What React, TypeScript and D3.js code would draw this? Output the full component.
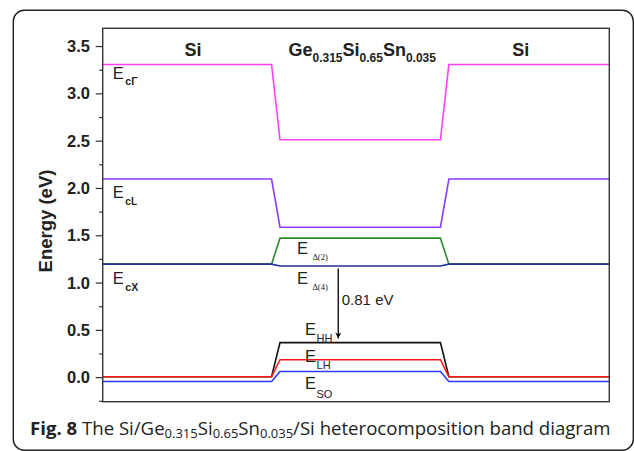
import React from "react";
import * as d3 from "d3";

// ---- data ----
const xPos = [0, 20, 21, 40, 41, 60];
const ecGamma = [3.31, 3.31, 2.515, 2.515, 3.31, 3.31];
const ecL = [2.1, 2.1, 1.59, 1.59, 2.1, 2.1];
const eDelta2 = [1.2, 1.2, 1.475, 1.475, 1.2, 1.2];
const eDelta4 = [1.2, 1.2, 1.18, 1.18, 1.2, 1.2];
const eHH = [0.01, 0.01, 0.37, 0.37, 0.01, 0.01];
const eLH = [0.01, 0.01, 0.19, 0.19, 0.01, 0.01];
const eSO = [-0.04, -0.04, 0.065, 0.065, -0.04, -0.04];

const yTicks = [0, 0.5, 1, 1.5, 2, 2.5, 3, 3.5];
const yMinorTicks = [-0.25, 0.25, 0.75, 1.25, 1.75, 2.25, 2.75, 3.25];

const gapLabel = "0.81 eV";
const arrowX = 27.9;
const arrowFrom = 1.155;
const arrowTo = 0.415;

const W = 634;
const H = 451;
const M = { left: 102.7, right: 609.3, top: 28.3, bottom: 401.7 };

const series = [
  { vals: ecGamma, color: "#ff40ff" },
  { vals: ecL, color: "#8a3cff" },
  { vals: eDelta2, color: "#2e8b2e" },
  { vals: eDelta4, color: "#23319e" },
  { vals: eHH, color: "#111111" },
  { vals: eSO, color: "#2a3cff" },
  { vals: eLH, color: "#ff1a1a" },
];

const labels = [
  { x: 1.2, y: 3.155, sub: "cΓ", subFont: "Arial", subSize: 10.5, subBold: true, dx: 1.5, dy: 6 },
  { x: 1.2, y: 1.9, sub: "cL", subFont: "Arial", subSize: 10, subBold: true, dx: 1.5, dy: 7 },
  { x: 1.2, y: 0.985, sub: "cX", subFont: "Arial", subSize: 10.5, subBold: true, dx: 1.5, dy: 6.5 },
  { x: 23.0, y: 1.312, sub: "Δ(2)", subFont: "Liberation Serif", subSize: 8.5, subBold: false, dx: 4.5, dy: 6.5 },
  { x: 23.0, y: 0.995, sub: "Δ(4)", subFont: "Liberation Serif", subSize: 8.5, subBold: false, dx: 4.5, dy: 6 },
  { x: 23.96, y: 0.455, sub: "HH", subFont: "Arial", subSize: 11, subBold: false, dx: 0.5, dy: 7 },
  { x: 23.96, y: 0.162, sub: "LH", subFont: "Arial", subSize: 11, subBold: false, dx: 0.5, dy: 6.5 },
  { x: 23.96, y: -0.12, sub: "SO", subFont: "Arial", subSize: 11, subBold: false, dx: 0.5, dy: 9 },
];

export default function App() {
  const x = d3.scaleLinear().domain([0, 60]).range([M.left, M.right]);
  const y = d3.scaleLinear().domain([-0.254, 3.693]).range([M.bottom, M.top]);
  const line = (vals: number[]) =>
    d3
      .line<number>()
      .x((_, i) => x(xPos[i]))
      .y((v) => y(v))(vals) as string;

  const headerY = y(3.405);
  return (
    <svg
      width={W}
      height={H}
      style={{ position: "absolute", left: 0, top: 0, background: "#fff" }}
      fontFamily="Arial, 'Liberation Sans', sans-serif"
    >
      <defs>
        <marker id="ah" viewBox="0 0 10 10" refX="10" refY="5" markerWidth="6" markerHeight="8" orient="auto" markerUnits="userSpaceOnUse">
          <path d="M0,0 L10,5 L0,10 L3,5 Z" fill="#000" />
        </marker>
      </defs>
      {/* outer frame */}
      <rect x={13.3} y={10.3} width={620} height={440} rx={11} ry={11} fill="none" stroke="#222" strokeWidth={1.4} />

      {/* series */}
      {series.map((s, i) => (
        <path key={i} d={line(s.vals)} fill="none" stroke={s.color} strokeWidth={1.6} />
      ))}

      {/* plot frame */}
      <rect x={M.left} y={M.top} width={M.right - M.left} height={M.bottom - M.top} fill="none" stroke="#333" strokeWidth={1.4} />

      {/* y axis ticks */}
      {yTicks.map((t) => (
        <g key={t}>
          <line x1={M.left - 7} x2={M.left} y1={y(t)} y2={y(t)} stroke="#333" strokeWidth={1.2} />
          <text x={90} y={y(t) + 5.5} textAnchor="end" fontSize={16.5} fontWeight="bold" fill="#222">
            {t.toFixed(1)}
          </text>
        </g>
      ))}
      {yMinorTicks.map((t) => (
        <line key={t} x1={M.left - 3.5} x2={M.left} y1={y(t)} y2={y(t)} stroke="#333" strokeWidth={1.2} />
      ))}

      {/* y axis title */}
      <text
        transform={`translate(52,${(M.top + M.bottom) / 2 + 6}) rotate(-90)`}
        textAnchor="middle"
        fontSize={18.5}
        fontWeight="bold"
        fill="#222"
      >
        Energy (eV)
      </text>

      {/* region headers */}
      <text x={x(10.7)} y={headerY} textAnchor="middle" fontSize={18} fontWeight="bold" fill="#222">
        Si
      </text>
      <text x={x(49.5)} y={headerY} textAnchor="middle" fontSize={18} fontWeight="bold" fill="#222">
        Si
      </text>
      <text x={x(22.0)} y={headerY} fontSize={18} fontWeight="bold" fill="#222">
        <tspan>Ge</tspan>
        <tspan fontSize={12} dy={6}>0.315</tspan>
        <tspan dy={-6}>Si</tspan>
        <tspan fontSize={12} dy={6}>0.65</tspan>
        <tspan dy={-6}>Sn</tspan>
        <tspan fontSize={12} dy={6}>0.035</tspan>
      </text>

      {/* energy labels */}
      {labels.map((l, i) => (
        <text key={i} x={x(l.x)} y={y(l.y)} fontSize={16.5} fill="#222">
          <tspan>E</tspan>
          <tspan
            dx={l.dx}
            dy={l.dy}
            fontSize={l.subSize}
            fontFamily={l.subFont}
            fontWeight={l.subBold ? "bold" : "normal"}
          >
            {l.sub}
          </tspan>
        </text>
      ))}

      {/* gap arrow */}
      <line x1={x(arrowX)} x2={x(arrowX)} y1={y(arrowFrom)} y2={y(arrowTo)} stroke="#000" strokeWidth={1.3} markerEnd="url(#ah)" />
      <text x={x(arrowX) + 3.5} y={y(0.772)} fontSize={15} fill="#222">
        {gapLabel}
      </text>

      {/* caption */}
      <text x={30} y={434.5} fontSize={18.6} fontFamily="'Open Sans', sans-serif" fill="#222">
        <tspan fontWeight="bold">Fig. 8</tspan>
        <tspan> The Si/Ge</tspan>
        <tspan fontSize={13} dy={3}>0.315</tspan>
        <tspan dy={-3}>Si</tspan>
        <tspan fontSize={13} dy={3}>0.65</tspan>
        <tspan dy={-3}>Sn</tspan>
        <tspan fontSize={13} dy={3}>0.035</tspan>
        <tspan dy={-3}>/Si heterocomposition band diagram</tspan>
      </text>
    </svg>
  );
}
